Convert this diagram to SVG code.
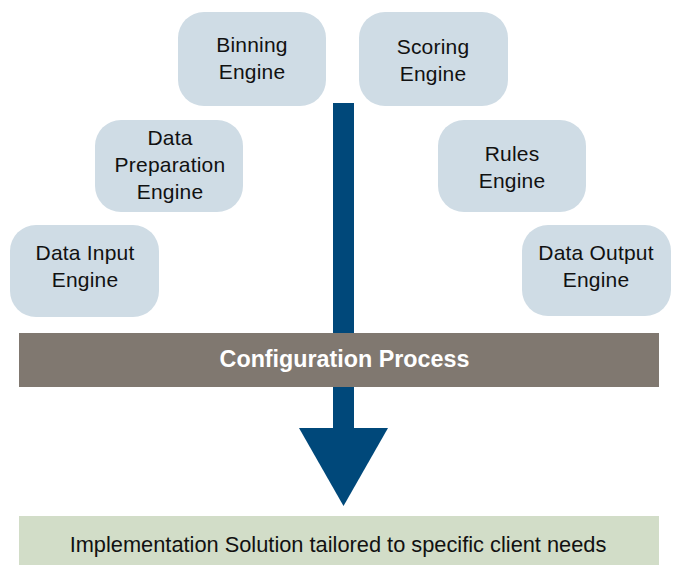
<svg xmlns="http://www.w3.org/2000/svg" width="673" height="565" viewBox="0 0 673 565">
<style>
.eng{fill:#CFDCE5;}
.lbl{font-family:"Liberation Sans",Arial,Helvetica,sans-serif;font-size:21px;letter-spacing:0.2px;fill:#111111;text-anchor:middle;}
.cfg{font-family:"Liberation Sans",Arial,Helvetica,sans-serif;font-size:23.3px;font-weight:bold;fill:#FFFFFF;text-anchor:middle;}
.sol{font-family:"Liberation Sans",Arial,Helvetica,sans-serif;font-size:21.8px;fill:#111111;text-anchor:middle;}
.arr{fill:#00487A;}
</style>
<rect width="673" height="565" fill="#FFFFFF"/>
<g id="binning">
<rect class="eng" x="178" y="12" width="148" height="94" rx="26" ry="26"/>
<text class="lbl" x="252" y="52">Binning</text>
<text class="lbl" x="252" y="79">Engine</text>
</g>
<g id="scoring">
<rect class="eng" x="359" y="12" width="149" height="94" rx="26" ry="26"/>
<text class="lbl" x="433" y="54">Scoring</text>
<text class="lbl" x="433" y="81">Engine</text>
</g>
<g id="data-preparation">
<rect class="eng" x="95" y="120" width="148" height="92" rx="26" ry="26"/>
<text class="lbl" x="170" y="145">Data</text>
<text class="lbl" x="170" y="172">Preparation</text>
<text class="lbl" x="170" y="199">Engine</text>
</g>
<g id="rules">
<rect class="eng" x="438" y="120" width="148" height="92" rx="26" ry="26"/>
<text class="lbl" x="512" y="161">Rules</text>
<text class="lbl" x="512" y="188">Engine</text>
</g>
<g id="data-input">
<rect class="eng" x="10" y="225" width="149" height="92" rx="26" ry="26"/>
<text class="lbl" x="85" y="260">Data Input</text>
<text class="lbl" x="85" y="287">Engine</text>
</g>
<g id="data-output">
<rect class="eng" x="522" y="225" width="149" height="91" rx="26" ry="26"/>
<text class="lbl" x="596" y="260">Data Output</text>
<text class="lbl" x="596" y="287">Engine</text>
</g>
<g id="connectors">
<rect class="arr" x="333" y="103" width="21" height="327"/>
</g>
<g id="configuration">
<rect x="19" y="333" width="640" height="54" fill="#807870"/>
<text class="cfg" x="344.5" y="367">Configuration Process</text>
</g>
<g id="arrowhead">
<polygon class="arr" points="299,428 388,428 343.5,506"/>
</g>
<g id="solution">
<rect x="19" y="516" width="640" height="49" fill="#D2DDC8"/>
<text class="sol" x="338" y="552">Implementation Solution tailored to specific client needs</text>
</g>
</svg>
